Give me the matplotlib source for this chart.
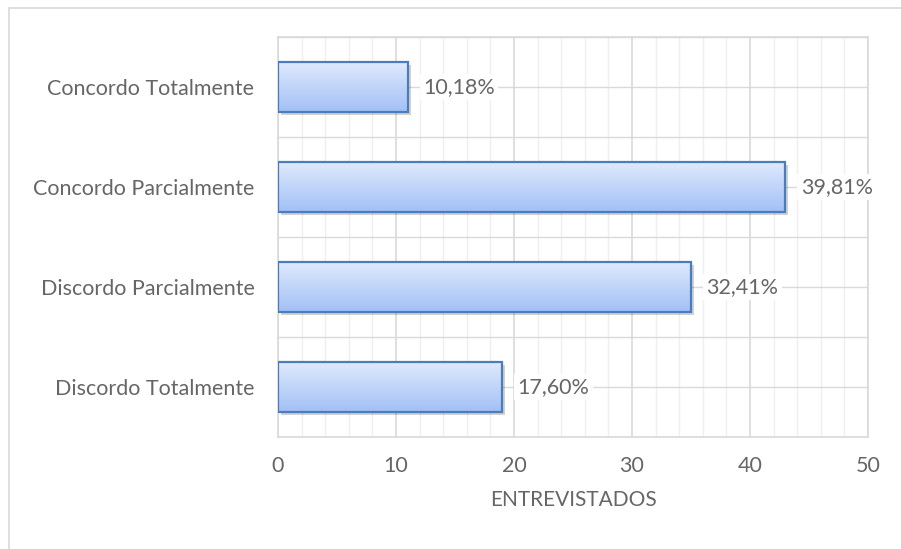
import numpy as np
import matplotlib.pyplot as plt
import matplotlib.transforms as mtransforms
from matplotlib.patches import Rectangle
from matplotlib.colors import LinearSegmentedColormap

# Dados (de baixo para cima no gráfico)
categorias = ['Discordo Totalmente', 'Discordo Parcialmente',
              'Concordo Parcialmente', 'Concordo Totalmente']
entrevistados = [19, 35, 43, 11]
percentuais = [17.60, 32.41, 39.81, 10.18]

plt.rcParams['font.family'] = ['Lato', 'DejaVu Sans']
cinza = '#666666'
linha_grade = '#d9d9d9'
fs = 15.5

fig = plt.figure(figsize=(9.01, 5.49), dpi=100)
ax = fig.add_axes([278 / 901, 112 / 549, 590 / 901, 400 / 549])

# Borda da área do gráfico
topo = 1 - 8 / 549
fig.patches.append(Rectangle((9 / 901, -0.1), 1.0, topo + 0.1, transform=fig.transFigure,
                             fill=False, edgecolor=linha_grade, linewidth=1.2))

pos = np.arange(len(categorias))
barras = ax.barh(pos, entrevistados, height=0.5, color='none',
                 edgecolor='#4a7ebb', linewidth=1.6, zorder=4)

# Preenchimento em degradê + sombra
gradiente = np.linspace(0, 1, 256).reshape(-1, 1)
cmap = LinearSegmentedColormap.from_list('azul', ['#a2c0f6', '#dfe9fd'])
sombra_desloc = mtransforms.ScaledTranslation(3 / 100, -3 / 100, fig.dpi_scale_trans)
for b in barras:
    x0, y0 = b.get_x(), b.get_y()
    w, h = b.get_width(), b.get_height()
    im = ax.imshow(gradiente, cmap=cmap, extent=(x0, x0 + w, y0, y0 + h),
                   origin='lower', aspect='auto', zorder=3)
    im.set_clip_path(b)
    ax.add_patch(Rectangle((x0, y0), w, h, facecolor='black', alpha=0.18,
                           edgecolor='none', zorder=2.5,
                           transform=ax.transData + sombra_desloc))

# Rótulos de dados
for i, (v, p) in enumerate(zip(entrevistados, percentuais)):
    ax.annotate(f'{p:.2f}%'.replace('.', ','), xy=(v, i), xytext=(11, 0),
                textcoords='offset points', va='center', ha='left',
                fontsize=fs, color=cinza, zorder=5,
                bbox=dict(boxstyle='square,pad=0.15', fc='white', ec='none'))

ax.set_xlim(0, 50)
ax.set_ylim(-0.5, len(categorias) - 0.5)
ax.set_xticks(np.arange(0, 51, 10))
ax.set_xticks(np.arange(0, 51, 2), minor=True)
ax.set_yticks(pos)
ax.set_yticklabels(categorias)
ax.set_yticks(np.arange(-0.5, len(categorias), 1), minor=True)

ax.grid(axis='x', which='major', color=linha_grade, linewidth=1.2, zorder=0)
ax.grid(axis='x', which='minor', color='#efefef', linewidth=1.0, zorder=0)
ax.grid(axis='y', which='both', color=linha_grade, linewidth=1.0, zorder=0)
ax.set_axisbelow(True)

ax.tick_params(which='both', length=0)
ax.tick_params(axis='y', pad=17, labelsize=fs, labelcolor=cinza)
ax.tick_params(axis='x', pad=14, labelsize=fs, labelcolor=cinza)
for s in ax.spines.values():
    s.set_color(linha_grade)
    s.set_linewidth(1.2)

ax.set_xlabel('ENTREVISTADOS', fontsize=15, color=cinza, labelpad=10)

fig.savefig('out.png', dpi=100)
